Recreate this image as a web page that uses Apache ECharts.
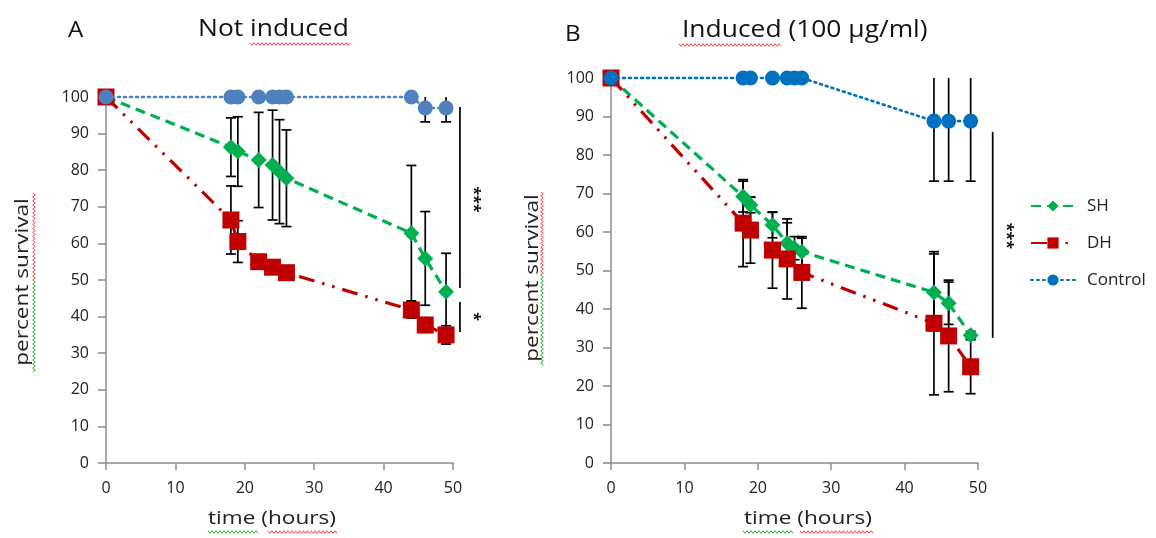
<!DOCTYPE html>
<html><head><meta charset="utf-8">
<script src="https://cdn.jsdelivr.net/npm/echarts@6/dist/echarts.min.js"></script>
<style>html,body{margin:0;padding:0;background:#fff}#c{width:1156px;height:538px}</style>
</head><body><div id="c"></div>
<script>
// ---- Data ----
const xTicks = [0, 10, 20, 30, 40, 50];
const yTicks = [0, 10, 20, 30, 40, 50, 60, 70, 80, 90, 100];

// Panel A: Not induced
const A_ctrl_t   = [0, 18, 19, 22, 24, 25, 26, 44, 46, 49];
const A_ctrl_v   = [100, 100, 100, 100, 100, 100, 100, 100, 97, 97];
const A_ctrl_e   = [0, 0, 0, 0, 0, 0, 0, 0, 3.8, 3.8];
const A_sh_t     = [0, 18, 19, 22, 24, 25, 26, 44, 46, 49];
const A_sh_v     = [100, 86.3, 85.1, 82.8, 81.4, 79.6, 77.8, 62.8, 55.9, 46.8];
const A_sh_e     = [0, 8, 9.5, 13, 15, 14.2, 13.2, 18.5, 12.8, 10.5];
const A_dh_t     = [0, 18, 19, 22, 24, 26, 44, 46, 49];
const A_dh_v     = [100, 66.4, 60.5, 55, 53.5, 52, 41.8, 37.7, 35];
const A_dh_e     = [0, 9.3, 5.7, 1.5, 1.5, 1.5, 2.2, 2, 2.5];

// Panel B: Induced (100 µg/ml)
const B_ctrl_t   = [0, 18, 19, 22, 24, 25, 26, 44, 46, 49];
const B_ctrl_v   = [100, 100, 100, 100, 100, 100, 100, 88.8, 88.8, 88.8];
const B_ctrl_e   = [0, 0, 0, 0, 0, 0, 0, 15.6, 15.6, 15.6];
const B_sh_t     = [0, 18, 19, 22, 24, 25, 26, 44, 46, 49];
const B_sh_v     = [100, 69.2, 67, 61.8, 57.1, 55.8, 54.9, 44.3, 41.5, 33.2];
const B_sh_e     = [0, 4, 2, 3.3, 5.3, 3, 3.5, 10, 5.5, 1];
const B_dh_t     = [0, 18, 19, 22, 24, 26, 44, 46, 49];
const B_dh_v     = [100, 62.3, 60.5, 55.3, 53, 49.5, 36.3, 33, 25];
const B_dh_e     = [0, 11.3, 8.6, 9.9, 10.4, 9.3, 18.6, 14.5, 7];

const seriesNames = ['SH', 'DH', 'Control'];
const titles = ['Not induced', 'Induced (100 µg/ml)'];
const panelLetters = ['A', 'B'];
const xName = 'time (hours)';
const yName = 'percent survival';

// ---- Styles ----
const FONT = '"Open Sans"';
const GREEN = '#00B050', RED = '#C00000', BLUE_A = '#4F81BD', BLUE_B = '#0070C0';
const YMAX = 100;

function pairs(t, v) { return t.map((x, i) => [x, v[i]]); }
function errData(t, v, e) {
  const out = [];
  t.forEach((x, i) => { if (e[i] > 0) out.push([x, v[i] - e[i], v[i] + e[i]]); });
  return out;
}
function errRender(params, api) {
  const x = api.value(0), lo = api.value(1), hi = api.value(2);
  const hiC = Math.min(hi, YMAX);
  const p1 = api.coord([x, lo]), p2 = api.coord([x, hiC]);
  const w = 5;
  const st = { stroke: '#000', lineWidth: 1.7 };
  const ch = [
    { type: 'line', shape: { x1: p1[0], y1: p1[1], x2: p2[0], y2: p2[1] }, style: st },
    { type: 'line', shape: { x1: p1[0] - w, y1: p1[1], x2: p1[0] + w, y2: p1[1] }, style: st }
  ];
  if (hi <= YMAX) ch.push({ type: 'line', shape: { x1: p2[0] - w, y1: p2[1], x2: p2[0] + w, y2: p2[1] }, style: st });
  return { type: 'group', children: ch };
}

const grids = [
  { left: 106, top: 97, width: 347, height: 366 },
  { left: 611, top: 78, width: 367, height: 385 }
];

function xAxis(i) {
  return {
    type: 'value', gridIndex: i, min: 0, max: 50, interval: 10,
    axisLine: { lineStyle: { color: '#8c8c8c', width: 1.5 } },
    axisTick: { length: 7, lineStyle: { color: '#8c8c8c', width: 1.5 } },
    axisLabel: { fontFamily: FONT, fontSize: 16, color: '#222', margin: 17 },
    splitLine: { show: false }
  };
}
function yAxis(i) {
  return {
    type: 'value', gridIndex: i, min: 0, max: 100, interval: 10,
    axisLine: { show: true, lineStyle: { color: '#8c8c8c', width: 1.5 } },
    axisTick: { show: true, length: 8, lineStyle: { color: '#8c8c8c', width: 1.5 } },
    axisLabel: { fontFamily: FONT, fontSize: 16, color: '#222', margin: 17 },
    splitLine: { show: false }
  };
}

const SH_STYLE = { color: GREEN, width: 3.2, type: [10, 6] };
const DH_STYLE = { color: RED, width: 3.2, type: [16, 8, 2.5, 8, 2.5, 8] };

function lineSeries(gi, data, color, lineStyle, symbol, size, z, legendName) {
  return {
    type: 'line', name: legendName, xAxisIndex: gi, yAxisIndex: gi,
    data: data, symbol: symbol, symbolSize: size, showSymbol: true,
    itemStyle: { color: color }, lineStyle: lineStyle, z: z, clip: false,
    animation: false
  };
}
function errSeries(gi, data) {
  return { type: 'custom', xAxisIndex: gi, yAxisIndex: gi, data: data, renderItem: errRender,
    encode: { x: 0, y: [1, 2] }, z: 1, clip: false, animation: false, silent: true };
}

const series = [
  errSeries(0, errData(A_sh_t, A_sh_v, A_sh_e)),
  errSeries(0, errData(A_dh_t, A_dh_v, A_dh_e)),
  errSeries(0, errData(A_ctrl_t, A_ctrl_v, A_ctrl_e)),
  errSeries(1, errData(B_sh_t, B_sh_v, B_sh_e)),
  errSeries(1, errData(B_dh_t, B_dh_v, B_dh_e)),
  errSeries(1, errData(B_ctrl_t, B_ctrl_v, B_ctrl_e)),
  lineSeries(0, pairs(A_sh_t, A_sh_v), GREEN, SH_STYLE, 'diamond', 16, 3, 'A_SH'),
  lineSeries(0, pairs(A_dh_t, A_dh_v), RED, DH_STYLE, 'rect', 17, 4, 'A_DH'),
  lineSeries(0, pairs(A_ctrl_t, A_ctrl_v), BLUE_A, { color: BLUE_A, width: 2.6, type: [2, 4], cap: 'round' }, 'circle', 15, 5, 'A_C'),
  lineSeries(1, pairs(B_sh_t, B_sh_v), GREEN, SH_STYLE, 'diamond', 16, 3, seriesNames[0]),
  lineSeries(1, pairs(B_dh_t, B_dh_v), RED, DH_STYLE, 'rect', 17, 4, seriesNames[1]),
  lineSeries(1, pairs(B_ctrl_t, B_ctrl_v), BLUE_B, { color: BLUE_B, width: 2.6, type: [2, 4], cap: 'round' }, 'circle', 15, 5, seriesNames[2])
];

const chart = echarts.init(document.getElementById('c'), null, { renderer: 'canvas' });
chart.setOption({
  animation: false,
  backgroundColor: '#fff',
  grid: grids,
  xAxis: [xAxis(0), xAxis(1)],
  yAxis: [yAxis(0), yAxis(1)],
  legend: {
    data: seriesNames, orient: 'vertical', left: 1025, top: 189, itemWidth: 44, itemHeight: 14, itemGap: 13,
    textStyle: { fontFamily: FONT, fontSize: 17, color: '#222', padding: [0, 0, 0, 7], lineHeight: 24 }
  },
  series: series
});

// Titles, axis names, significance annotations, spell-check wavy underlines
const SX = 1.19;
const gr = [
  { type: 'text', x: 68, y: 31, scaleX: 1.1, style: { text: panelLetters[0], font: '22px ' + FONT, fill: '#111', verticalAlign: 'middle' } },
  { type: 'text', x: 198, y: 29, scaleX: 1.1, style: { text: titles[0], font: '24px ' + FONT, fill: '#111', verticalAlign: 'middle' } },
  { type: 'text', x: 565, y: 35, scaleX: 1.1, style: { text: panelLetters[1], font: '22px ' + FONT, fill: '#111', verticalAlign: 'middle' } },
  { type: 'text', x: 682, y: 30, scaleX: 1.1, style: { text: titles[1], font: '24px ' + FONT, fill: '#111', verticalAlign: 'middle' } },
  { type: 'text', x: 23, y: 282, rotation: Math.PI / 2, scaleX: SX, style: { text: yName, font: '19px ' + FONT, fill: '#222', align: 'center', verticalAlign: 'middle' } },
  { type: 'text', x: 533, y: 278, rotation: Math.PI / 2, scaleX: SX, style: { text: yName, font: '19px ' + FONT, fill: '#222', align: 'center', verticalAlign: 'middle' } },
  { type: 'text', x: 272, y: 519, scaleX: SX, style: { text: xName, font: '19px ' + FONT, fill: '#222', align: 'center', verticalAlign: 'middle' } },
  { type: 'text', x: 808, y: 519, scaleX: SX, style: { text: xName, font: '19px ' + FONT, fill: '#222', align: 'center', verticalAlign: 'middle' } }
];
const sig = [
  { g: 0, x: 51, y1: 97.3, y2: 47.8, label: '***', ly: 72 },
  { g: 0, x: 51, y1: 44, y2: 35.8, label: '*', ly: 40 },
  { g: 1, x: 52, y1: 86, y2: 32.5, label: '***', ly: 59 }
];
sig.forEach(s => {
  const p1 = chart.convertToPixel({ gridIndex: s.g }, [s.x, s.y1]);
  const p2 = chart.convertToPixel({ gridIndex: s.g }, [s.x, s.y2]);
  const pl = chart.convertToPixel({ gridIndex: s.g }, [s.x, s.ly]);
  gr.push({ type: 'line', shape: { x1: p1[0], y1: p1[1], x2: p2[0], y2: p2[1] }, style: { stroke: '#000', lineWidth: 1.7 } });
  gr.push({ type: 'text', x: p1[0] + 14, y: pl[1], rotation: -Math.PI / 2,
    style: { text: s.label, font: 'bold 16px ' + FONT, fill: '#111', align: 'center', verticalAlign: 'middle' } });
});
function wavy(x1, y1, x2, y2, color) {
  const pts = [];
  const horiz = Math.abs(x2 - x1) > Math.abs(y2 - y1);
  const len = horiz ? x2 - x1 : y2 - y1;
  const n = Math.max(2, Math.round(Math.abs(len) / 2));
  for (let k = 0; k <= n; k++) {
    const f = k / n, off = (k % 2 ? 1.3 : -1.3);
    pts.push(horiz ? [x1 + f * len, y1 + off] : [x1 + off, y1 + f * len]);
  }
  return { type: 'polyline', shape: { points: pts }, style: { stroke: color, lineWidth: 1, fill: null }, silent: true };
}
const WR = '#ff4040', WG = '#30b030';
gr.push(wavy(250, 44, 350, 44, WR));
gr.push(wavy(679, 45, 781, 45, WR));
gr.push(wavy(34, 193, 34, 280, WR));
gr.push(wavy(34, 280, 34, 372, WG));
gr.push(wavy(542, 192, 542, 275, WR));
gr.push(wavy(542, 275, 542, 365, WG));
gr.push(wavy(208, 532, 258, 532, WG));
gr.push(wavy(268, 532, 337, 532, WR));
gr.push(wavy(743, 532, 793, 532, WG));
gr.push(wavy(800, 532, 873, 532, WR));
chart.setOption({ graphic: gr });
</script>
</body></html>
